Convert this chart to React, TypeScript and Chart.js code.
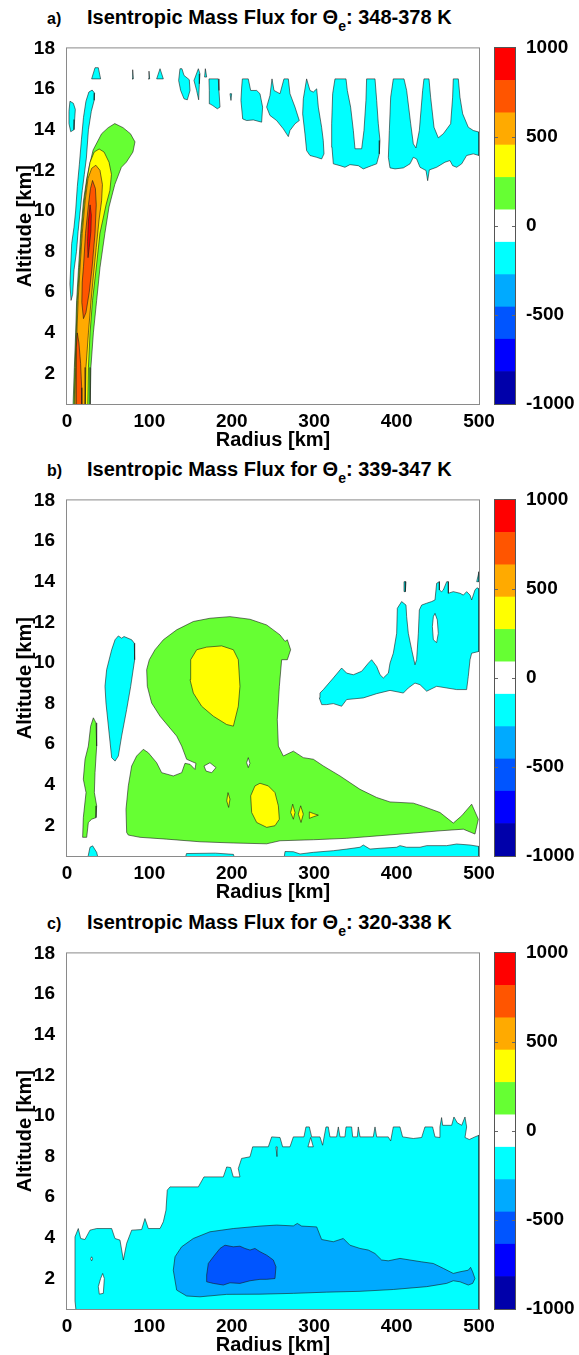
import React, { useEffect, useRef } from 'react';
import { Chart, registerables } from 'chart.js';

Chart.register(...registerables);

type Pt = [number, number];

const FONT = '"Liberation Sans", Arial, Helvetica, sans-serif';

const radiusTicks = [0, 100, 200, 300, 400, 500];
const altitudeTicks = [2, 4, 6, 8, 10, 12, 14, 16, 18];
const colorbarTicks = [-1000, -500, 0, 500, 1000];
const levelEdges = [-1000, -818, -636, -455, -273, -91, 91, 273, 455, 636, 818, 1000];
const levelColors = ['#0000AA', '#0000FF', '#0055FF', '#00AAFF', '#00FFFF', '#FFFFFF', '#66FF33', '#FFFF00', '#FFAA00', '#FF5500', '#FF0000'];

const panelLabels = ['a)', 'b)', 'c)'];
const panelRanges = ['348-378 K', '339-347 K', '320-338 K'];

// ---------- Panel a: 348-378 K ----------
const a_cyanStrip1: Pt[] = [[4.9,5.6],[3.6,6.4],[5.7,8.4],[8.5,9.2],[10.5,10.0],[12.5,11.2],[15,12.3],[17.5,13.5],[20,14.6],[23,15.4],[26.5,15.85],[30.5,15.95],[33.5,15.8],[33,15.45],[29.5,14.9],[26,14.0],[23.5,12.6],[21,11.8],[18.5,11.0],[16,10.0],[13.5,9.0],[11.5,8.0],[8.5,7.1],[6.9,5.9]];
const a_cyanStrip2: Pt[] = [[3.6,15.4],[7.7,15.3],[10.1,15.0],[9.3,14.5],[8.5,14.0],[4.5,13.9],[2.4,14.3],[2.4,14.9]];
const a_cyan1: Pt[] = [[29.9,16.5],[34,17.05],[38,17.05],[40.8,16.5]];
const a_cyan2: Pt[] = [[78.9,16.5],[79.7,16.95],[80.5,16.5]];
const a_cyan3: Pt[] = [[98.7,16.5],[99.5,16.88],[100.3,16.5]];
const a_cyan4: Pt[] = [[108.8,16.5],[112.9,17.0],[116.9,16.5]];
const a_cyan5: Pt[] = [[137.1,17.0],[139.5,17.0],[142,16.67],[148.4,16.46],[149.3,15.93],[146,15.47],[142,15.52],[137.9,15.93],[135.5,16.42]];
const a_cyan6: Pt[] = [[159.4,17.0],[161.4,16.75],[160.6,16.26],[159.8,15.47],[157.3,15.93],[154.1,16.42]];
const a_cyan7: Pt[] = [[167.9,17.0],[169.5,16.59],[167,16.59]];
const a_cyan8: Pt[] = [[172.3,16.5],[183.6,16.5],[184.4,15.93],[185.7,15.11],[182.4,15.03],[176.8,15.19],[173.5,15.27],[172.7,15.93]];
const a_cyan9: Pt[] = [[197.8,15.77],[199.8,15.77],[199,15.44]];
const a_cyan10: Pt[] = [[212.8,16.5],[220,16.5],[222.9,15.93],[230.2,15.93],[234.2,15.77],[237.4,15.11],[236.2,14.37],[226.1,14.48],[218,14.45],[213.2,14.53],[211.1,15.44],[212,16.1]];
const a_cyan11: Pt[] = [[242.3,15.11],[246.3,15.68],[248.8,16.5],[251.2,15.93],[258.5,15.77],[263.3,16.5],[268.6,16.5],[270.6,15.77],[276.7,15.11],[281.9,14.45],[276.7,14.29],[270.6,13.96],[268.6,13.66],[262.5,14.04],[254.4,14.45],[246.3,14.7]];
const a_cyan12: Pt[] = [[290.8,16.5],[294.9,15.93],[298.9,15.85],[303,16.01],[305,15.11],[309,14.12],[311,13.47],[311.9,12.81],[309,12.56],[303,12.64],[294.9,12.73],[290.8,12.97],[288.8,13.79],[286,14.78],[286.8,15.52]];
const a_cyan13: Pt[] = [[325.2,16.5],[338.6,16.5],[340.2,15.93],[344.2,15.11],[347.5,13.96],[349.5,13.06],[357.6,13.06],[360.4,13.96],[362.8,15.44],[363.6,16.5],[373.8,16.5],[375.8,15.44],[377.8,14.29],[379.8,13.47],[379,12.81],[375.8,12.32],[369.7,12.23],[359.6,12.07],[353.5,12.23],[343.4,12.28],[337.3,12.15],[331.3,12.23],[323.2,12.32],[321.6,13.14],[321.2,14.29],[322.4,15.77]];
const a_cyan14: Pt[] = [[396.0,16.5],[409.0,16.5],[412.2,15.93],[417.1,14.29],[420.3,13.3],[423.5,13.1],[427.6,13.96],[431.6,15.93],[433.2,16.5],[439.3,16.5],[441.3,15.6],[445.4,14.12],[450.6,13.6],[456.7,13.8],[465.6,14.29],[468.0,15.6],[468.8,16.5],[474.9,16.5],[476.9,15.6],[480.2,14.78],[487.0,14.12],[493.1,13.96],[500,13.88],[500,12.73],[493.1,12.81],[485,12.73],[479,12.32],[472.9,12.15],[468.0,12.23],[464.8,12.48],[458.7,12.4],[448.6,12.15],[439.7,12.02],[437.7,11.49],[435.7,11.99],[428.4,12.15],[424.3,12.56],[420.3,12.64],[416.3,12.32],[408.2,12.12],[398.1,12.07],[392,12.12],[390,12.64],[391.2,13.96],[392.8,15.6]];
const a_green: Pt[] = [[7,0],[8.9,2.3],[10.5,4],[11.7,5.6],[14,7.2],[16.6,8.9],[20,10.5],[24,11.6],[27,12.2],[31.7,13.0],[42,13.8],[50,14.1],[58,14.3],[68,14.1],[77,13.8],[82.5,13.4],[80,12.9],[72,12.4],[66,12.15],[58,11.3],[51,10.2],[46,8.9],[40,7.2],[36,5.6],[32,4],[29,2.3],[28,0]];
const a_yellow: Pt[] = [[8.5,0],[9.8,2.3],[11.2,4],[12.5,5.6],[15,7.2],[17.5,8.9],[21,10.5],[24.5,11.6],[28,12.4],[33,12.9],[39,13.05],[45,12.9],[51,12.4],[54,11.8],[52,11.0],[47.4,10.3],[40,8.9],[35.5,7.2],[31,5.6],[28,4],[26,2.3],[25,0]];
const a_orange: Pt[] = [[9.5,0],[10.5,2.3],[12,4],[13.5,5.6],[15.8,7.2],[18.5,8.9],[22,10.5],[25.5,11.6],[30,12.1],[35,12.25],[40,12.0],[43,11.3],[42,10.5],[39,9.6],[35.5,8.2],[32,6.8],[29,5.5],[26,4],[23,2.3],[22,0]];
const a_orangeRed1: Pt[] = [[31,11.5],[34.5,11.1],[35.5,10.3],[34,8.9],[30.5,7.25],[27,6.0],[23,5.0],[20,4.7],[18,5.5],[18.5,6.5],[20,7.25],[22.5,8.9],[26,10.3],[28.5,11.1]];
const a_orangeRed2: Pt[] = [[12.5,4.0],[14.5,3.5],[16.5,2.5],[17.8,1.3],[18,0],[11.5,0],[11.2,2],[11.5,3.3]];
const a_red: Pt[] = [[28,10.3],[29.5,9.8],[29,9],[27,8.2],[25.5,7.7],[25,8.5],[26,9.5]];

// ---------- Panel b: 339-347 K ----------
const b_greenStrip: Pt[] = [[32,7.3],[35.2,7.05],[36,5.91],[34,4.6],[33.2,3.62],[36,2.97],[35.2,2.39],[29.9,2.31],[25.9,2.15],[23.9,1.42],[19,1.42],[19.8,2.39],[23.1,3.62],[19.8,4.28],[21.9,5.26],[25.9,5.91],[28.7,6.89]];
const b_cyanStrip: Pt[] = [[62.3,11.33],[66.3,11.22],[69.2,11.3],[78.5,11.14],[81.7,10.97],[82.1,10.16],[77.3,8.85],[72.4,7.71],[66.3,6.4],[62.3,5.42],[58.3,5.17],[54.2,5.34],[47.3,8.03],[46.1,8.85],[48.1,9.67],[54.2,10.65],[58.3,11.14]];
const b_greenBig: Pt[] = [[72.4,1.66],[71.6,2.8],[74.4,3.95],[78.5,4.93],[84.5,5.42],[92.6,5.75],[98.7,5.58],[108.8,5.09],[114.9,4.6],[129.0,4.44],[139.2,4.6],[143.2,5.06],[149.3,5.01],[155.3,4.76],[156.5,5.06],[145.2,5.26],[139.2,5.91],[133.1,6.4],[123,6.89],[112.9,7.38],[102.7,8.03],[97.5,8.85],[96.7,9.67],[99.9,10.16],[106.8,10.65],[116.9,11.14],[133.1,11.63],[153.3,12.04],[173.5,12.2],[197.8,12.28],[222.1,12.15],[242.3,11.87],[258.5,11.38],[264.6,11.06],[267.4,11.14],[271.4,10.65],[267.4,10.16],[260.5,10.16],[257.7,8.85],[255.2,7.22],[256.5,5.91],[262.5,5.42],[270.6,5.58],[274.7,5.66],[286.8,5.34],[299,5.26],[311.1,4.93],[331.3,4.44],[355.6,3.78],[375.8,3.38],[392,3.16],[420.3,3.1],[432.4,2.94],[452.7,2.64],[468.8,2.12],[479,2.48],[491.1,3.05],[499.2,2.31],[495.1,1.58],[481,1.82],[452.7,1.74],[420.3,1.63],[379.9,1.5],[339.4,1.37],[299,1.3],[258.5,1.25],[242.3,1.1],[201.9,1.14],[161.4,1.2],[120.9,1.33],[88.6,1.42],[74.4,1.53]];
const b_whiteHole1: Pt[] = [[166.3,4.93],[173.5,5.09],[180.8,4.85],[175.6,4.6],[168.7,4.68]];
const b_whiteHole2: Pt[] = [[220,5.34],[222,5.06],[220,4.85],[218,5.09]];
const b_yellowUpper: Pt[] = [[157.4,10.65],[169.5,10.78],[187.7,10.84],[201.9,10.65],[207.9,10.16],[209.9,8.85],[207.9,7.87],[201.9,6.89],[193.8,6.97],[177.6,7.38],[163.4,7.87],[153.3,8.52],[149.3,9.18],[150.1,10.16]];
const b_yellowLower: Pt[] = [[234.2,4.08],[244.3,3.95],[252.4,3.62],[256.5,2.97],[257.7,2.31],[252.4,1.99],[242.3,1.91],[230.2,2.15],[224.1,2.64],[222.9,3.46],[228.1,3.95]];
const b_yellowDot1: Pt[] = [[195.4,3.62],[197.8,3.3],[196.2,2.89],[193.8,3.21]];
const b_yellowDot2: Pt[] = [[273.9,3.05],[276.7,2.64],[274.7,2.31],[271.4,2.64]];
const b_yellowDot3: Pt[] = [[283.6,2.97],[286.8,2.56],[284,2.15],[280.7,2.56]];
const b_yellowDot4: Pt[] = [[294.1,2.67],[299,2.59],[305,2.51],[299,2.43],[294.1,2.35]];
const b_cyanUpper: Pt[] = [[307.0,8.52],[311.1,8.69],[323.2,9.26],[333.3,9.75],[339.4,9.5],[347.5,9.42],[357.6,9.59],[365.7,9.99],[369.7,10.16],[375.8,9.83],[379.9,9.42],[383.9,9.26],[390.0,9.5],[392.0,9.99],[396.0,10.48],[400.1,11.46],[400.9,12.69],[406.1,13.02],[411.4,12.85],[412.2,12.28],[414.2,11.46],[418.3,10.65],[422.3,9.91],[424.3,10.16],[426.4,11.46],[427.6,12.61],[430.4,12.85],[436.5,12.94],[442.5,13.02],[446.6,13.1],[448.6,13.92],[451.9,14.0],[451.9,13.59],[454.7,13.51],[456.7,13.59],[460.8,14.0],[462.8,14.0],[462.8,13.43],[468.8,13.51],[476.9,13.43],[481.0,13.34],[485.0,13.51],[489.1,13.34],[491.1,13.1],[495.1,13.59],[497.5,13.7],[500,13.65],[500,10.57],[491.1,10.48],[489.1,10.16],[487.0,9.34],[485.0,8.69],[472.9,8.69],[460.8,8.77],[448.6,8.85],[436.5,8.61],[428.4,8.93],[422.3,9.01],[414.2,8.77],[408.2,8.52],[392.0,8.65],[375.8,8.49],[359.6,8.28],[339.4,8.2],[333.3,7.87],[323.2,8.0],[315.1,7.95],[309.1,7.95],[306.2,8.28]];
const b_whiteHole3: Pt[] = [[446.6,12.44],[449.4,12.12],[450.6,11.46],[448.6,11.0],[444.6,11.14],[443.4,11.79],[444.6,12.28]];
const b_cyanSliver: Pt[] = [[409,14.0],[411.4,14.0],[410.6,13.51],[409,13.51]];
const b_cyanCorner: Pt[] = [[497.2,14.0],[500,14.49],[500,14.0]];
const b_cyanBottom1: Pt[] = [[23.1,0],[27.9,0.93],[31.1,1.0],[36,0.68],[40,0]];
const b_cyanBottom2: Pt[] = [[141,0],[145,0.62],[180,0.64],[202,0.58],[206,0]];
const b_cyanBottom3: Pt[] = [[262,0],[264.6,0.72],[274.7,0.71],[282.8,0.6],[299,0.68],[323.2,0.76],[339.4,0.84],[355.6,0.93],[359.6,1.04],[367.7,0.84],[379.9,0.88],[400.1,0.93],[404.1,1.01],[412.2,0.93],[428.4,0.93],[436.5,1.01],[460.8,1.01],[472.9,1.09],[489.1,1.04],[500,0.97],[500,0]];

// ---------- Panel c: 320-338 K ----------
const c_cyan: Pt[] = [[12,0],[9.7,0.9],[9.7,4.05],[13.7,4.46],[16.6,3.97],[21.8,3.92],[27.9,4.38],[36,4.46],[54.2,4.46],[58.2,3.97],[64.3,3.89],[68.4,2.91],[72.4,3.73],[78.5,4.38],[90.6,4.41],[94.6,4.95],[98.7,4.46],[112.9,4.46],[116.9,4.79],[120.1,5.36],[121.7,6.35],[125,6.51],[159.4,6.51],[166.2,7.0],[189.7,7.0],[193.8,7.49],[198.6,7.46],[201.8,7.0],[209.9,7.0],[207.9,7.41],[211.9,7.91],[222.1,7.99],[225.3,8.48],[244.3,8.48],[248.4,8.97],[258.5,8.94],[261.7,8.48],[270.6,8.48],[274.7,8.97],[287.6,8.97],[290,9.46],[294.1,9.46],[296.9,8.97],[307,8.97],[310.2,8.56],[314.3,9.46],[317.1,9.46],[319.1,8.97],[327.2,8.97],[329.3,9.46],[331.3,8.97],[337.3,8.97],[338.6,9.46],[345.4,9.46],[346.7,8.97],[352.3,8.97],[353.5,9.46],[355.6,8.97],[371.7,8.97],[373.8,9.46],[375.8,8.97],[389.9,8.97],[392.8,8.77],[396,9.46],[404.1,9.46],[407.3,8.97],[420.3,8.89],[430.4,8.94],[434.4,9.46],[443.7,9.46],[446.6,8.97],[452.6,8.94],[452.6,9.46],[454.6,9.92],[455.9,9.54],[466.8,9.54],[469.6,9.95],[473.7,9.66],[479,9.54],[483,9.95],[485,9.46],[483,8.94],[488.2,8.84],[495.1,8.97],[500,9.05],[500,0]];
const c_whiteHole1: Pt[] = [[43.3,2.25],[45.3,2.0],[44.1,1.27],[39.2,1.23],[38,1.6],[40.8,2.0]];
const c_whiteDot: Pt[] = [[29.9,3.07],[31.1,2.97],[29.9,2.87],[28.7,2.97]];
const c_whiteSliver1: Pt[] = [[253.6,8.48],[255.2,8.48],[254.8,8.0],[254,8.0]];
const c_whiteSliver2: Pt[] = [[292.4,8.48],[295.7,8.94],[298.9,8.48]];
const c_lightBlue: Pt[] = [[129,2.41],[131.1,3.07],[139.1,3.56],[153.3,3.97],[173.5,4.3],[201.8,4.46],[234.2,4.58],[254.4,4.63],[274.7,4.59],[279.5,4.71],[284.8,4.58],[303,4.54],[309,3.92],[323.2,3.81],[335.3,3.97],[343.4,3.64],[355.6,3.48],[365.7,3.4],[373.8,3.23],[381.8,2.91],[389.9,2.87],[404.1,2.99],[416.2,2.91],[430.4,2.82],[444.5,2.74],[456.7,2.5],[468.8,2.25],[476.9,2.33],[487,2.41],[489.8,2.55],[492.3,2.33],[495.1,2.0],[492.3,1.76],[487,1.68],[476.9,1.84],[468.8,1.89],[460.7,1.76],[436.5,1.6],[396,1.46],[355.6,1.37],[315.1,1.33],[274.7,1.27],[234.2,1.23],[193.8,1.22],[161.4,1.1],[145.2,1.14],[133.1,1.43]];
const c_midBlue: Pt[] = [[169.5,2.17],[171.5,2.74],[177.6,3.07],[185.7,3.48],[191.7,3.64],[201.8,3.56],[209.9,3.59],[216,3.48],[222.1,3.4],[228.1,3.48],[234.2,3.32],[242.3,3.15],[250.4,2.91],[253.6,2.58],[252.4,2.0],[242.3,1.96],[234.2,1.96],[222.1,1.89],[209.9,1.76],[197.8,1.79],[189.7,1.68],[177.6,1.76],[169.5,1.84]];

const panelALayers: [Pt[], number][] = [
  [a_cyanStrip1, 4], [a_cyanStrip2, 4], [a_cyan1, 4], [a_cyan2, 4], [a_cyan3, 4], [a_cyan4, 4],
  [a_cyan5, 4], [a_cyan6, 4], [a_cyan7, 4], [a_cyan8, 4], [a_cyan9, 4], [a_cyan10, 4],
  [a_cyan11, 4], [a_cyan12, 4], [a_cyan13, 4], [a_cyan14, 4],
  [a_green, 6], [a_yellow, 7], [a_orange, 8], [a_orangeRed1, 9], [a_orangeRed2, 9], [a_red, 10],
];
const panelBLayers: [Pt[], number][] = [
  [b_greenStrip, 6], [b_cyanStrip, 4], [b_greenBig, 6], [b_whiteHole1, 5], [b_whiteHole2, 5],
  [b_yellowUpper, 7], [b_yellowLower, 7], [b_yellowDot1, 7], [b_yellowDot2, 7], [b_yellowDot3, 7], [b_yellowDot4, 7],
  [b_cyanUpper, 4], [b_whiteHole3, 5], [b_cyanSliver, 4], [b_cyanCorner, 4],
  [b_cyanBottom1, 4], [b_cyanBottom2, 4], [b_cyanBottom3, 4],
];
const panelCLayers: [Pt[], number][] = [
  [c_cyan, 4], [c_whiteHole1, 5], [c_whiteDot, 5], [c_whiteSliver1, 5], [c_whiteSliver2, 5],
  [c_lightBlue, 3], [c_midBlue, 2],
];
const allLayers = [panelALayers, panelBLayers, panelCLayers];

const PANEL_TOPS = [48, 500, 953];
const PLOT_H = 356;
const PAD_TOP = 15;
const X_AXIS_H = 50;
const CANVAS_H = PAD_TOP + PLOT_H + X_AXIS_H;

const tickFont = { family: FONT, size: 19, weight: 'bold' as const };
const titleFont = { family: FONT, size: 20, weight: 'bold' as const };

const framePlugin = {
  id: 'frame',
  afterDatasetsDraw(chart: any) {
    const { ctx, chartArea: a } = chart;
    ctx.save();
    ctx.strokeStyle = '#8a8a8a';
    ctx.lineWidth = 1;
    ctx.strokeRect(a.left - 0.5, a.top - 0.5, a.right - a.left + 1, a.bottom - a.top + 1);
    ctx.restore();
  },
};

const colorbarPlugin = {
  id: 'cbframe',
  afterDatasetsDraw(chart: any) {
    const { ctx, chartArea: a } = chart;
    const ys = chart.scales.y;
    ctx.save();
    ctx.strokeStyle = '#666';
    ctx.lineWidth = 1;
    for (const v of colorbarTicks.slice(1, -1)) {
      const y = Math.round(ys.getPixelForValue(v)) + 0.5;
      ctx.beginPath();
      ctx.moveTo(a.left, y); ctx.lineTo(a.left + 3, y);
      ctx.moveTo(a.right - 3, y); ctx.lineTo(a.right, y);
      ctx.stroke();
    }
    ctx.strokeStyle = '#555';
    ctx.strokeRect(a.left - 0.5, a.top - 0.5, a.right - a.left + 1, a.bottom - a.top + 1);
    ctx.restore();
  },
};

function closed(pts: Pt[]) {
  const d = pts.map(([x, y]) => ({ x, y }));
  d.push({ x: pts[0][0], y: pts[0][1] });
  return d;
}

function Panel({ idx }: { idx: number }) {
  const mainRef = useRef<HTMLCanvasElement>(null);
  const barRef = useRef<HTMLCanvasElement>(null);
  const top = PANEL_TOPS[idx];

  useEffect(() => {
    const datasets = allLayers[idx]
      .map(([pts, band]) => ({
        data: closed(pts),
        backgroundColor: levelColors[band],
        borderColor: 'rgba(25,25,25,0.85)',
        borderWidth: 0.7,
        fill: 'shape',
        pointRadius: 0,
        pointHoverRadius: 0,
        tension: 0,
      }))
      .reverse();

    const main = new Chart(mainRef.current as HTMLCanvasElement, {
      type: 'line',
      data: { datasets: datasets as any },
      options: {
        animation: false,
        responsive: false,
        devicePixelRatio: 1,
        events: [],
        layout: { padding: { left: 0, right: 100, top: PAD_TOP, bottom: 0 } },
        plugins: { legend: { display: false }, tooltip: { enabled: false } },
        scales: {
          x: {
            type: 'linear',
            min: 0,
            max: 500,
            afterBuildTicks: (s: any) => { s.ticks = radiusTicks.map((v) => ({ value: v })); },
            afterFit: (s: any) => { s.height = X_AXIS_H; },
            grid: { display: false },
            border: { display: false },
            ticks: { font: tickFont, color: '#000', padding: -2, maxRotation: 0, autoSkip: false },
            title: { display: true, text: 'Radius [km]', font: titleFont, color: '#000', padding: { top: 0, bottom: 2 } },
          },
          y: {
            type: 'linear',
            min: 0.5,
            max: 18,
            afterBuildTicks: (s: any) => { s.ticks = altitudeTicks.map((v) => ({ value: v })); },
            afterFit: (s: any) => { s.width = 67; },
            grid: { display: false },
            border: { display: false },
            ticks: { font: tickFont, color: '#000', padding: 4, autoSkip: false },
            title: { display: true, text: 'Altitude [km]', font: titleFont, color: '#000', padding: { top: 13, bottom: 0 } },
          },
        },
      } as any,
      plugins: [framePlugin],
    });

    const bar = new Chart(barRef.current as HTMLCanvasElement, {
      type: 'bar',
      data: {
        labels: [''],
        datasets: levelColors.map((c, i) => ({
          data: [[levelEdges[i], levelEdges[i + 1]]],
          backgroundColor: c,
          borderWidth: 0,
          grouped: false,
          barPercentage: 1,
          categoryPercentage: 1,
        })) as any,
      },
      options: {
        animation: false,
        responsive: false,
        devicePixelRatio: 1,
        events: [],
        layout: { padding: { left: 15, right: 0, top: PAD_TOP, bottom: X_AXIS_H } },
        plugins: { legend: { display: false }, tooltip: { enabled: false } },
        scales: {
          x: { display: false },
          y: {
            position: 'right',
            min: -1000,
            max: 1000,
            afterBuildTicks: (s: any) => { s.ticks = colorbarTicks.map((v) => ({ value: v })); },
            afterFit: (s: any) => { s.width = 64; },
            grid: { display: false },
            border: { display: false },
            ticks: {
              font: tickFont,
              color: '#000',
              padding: 3,
              autoSkip: false,
              callback: (v: any) => String(v),
            },
          },
        },
      } as any,
      plugins: [colorbarPlugin],
    });

    return () => {
      main.destroy();
      bar.destroy();
    };
  }, [idx]);

  return (
    <>
      <div
        style={{
          position: 'absolute',
          left: 47,
          top: top - 41,
          font: `bold 20px ${FONT}`,
          lineHeight: '20px',
          whiteSpace: 'nowrap',
          color: '#000',
        }}
      >
        <span style={{ display: 'inline-block', width: 40, fontSize: 16 }}>{panelLabels[idx]}</span>
        Isentropic Mass Flux for Θ
        <span style={{ fontSize: 14, position: 'relative', top: 7 }}>e</span>: {panelRanges[idx]}
      </div>
      <canvas
        ref={mainRef}
        width={579}
        height={CANVAS_H}
        style={{ position: 'absolute', left: 0, top: top - PAD_TOP, width: 579, height: CANVAS_H }}
      />
      <canvas
        ref={barRef}
        width={99}
        height={CANVAS_H}
        style={{ position: 'absolute', left: 480, top: top - PAD_TOP, width: 99, height: CANVAS_H }}
      />
    </>
  );
}

export default function App() {
  return (
    <div
      style={{
        position: 'absolute',
        left: 0,
        top: 0,
        width: 579,
        height: 1355,
        background: '#fff',
        overflow: 'hidden',
      }}
    >
      <Panel idx={0} />
      <Panel idx={1} />
      <Panel idx={2} />
    </div>
  );
}
